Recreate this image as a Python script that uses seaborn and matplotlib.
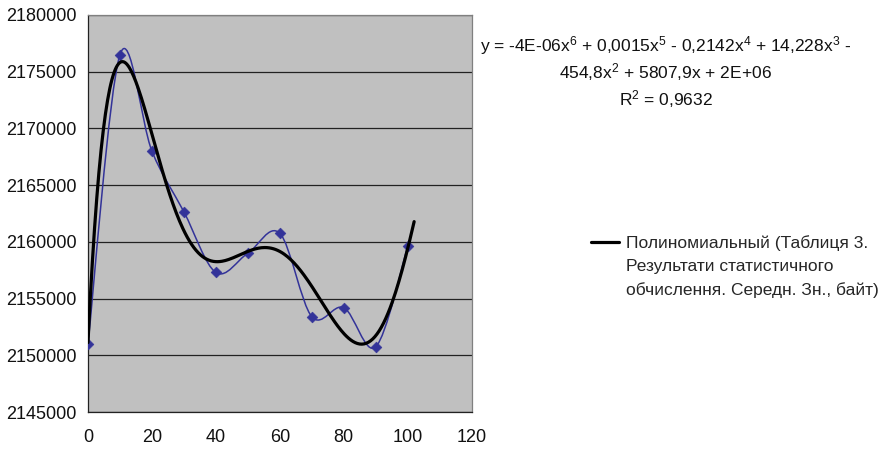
import numpy as np
import pandas as pd
import seaborn as sns
import matplotlib
matplotlib.use("Agg")
import matplotlib.pyplot as plt
from matplotlib.path import Path
from matplotlib.patches import PathPatch
from matplotlib.lines import Line2D

# data
x_vals = [0, 10, 20, 30, 40, 50, 60, 70, 80, 90, 100]
y_vals = [2151000, 2176500, 2168000, 2162650, 2157300, 2159000,
          2160750, 2153400, 2154200, 2150750, 2159600]
x_ticks = [0, 20, 40, 60, 80, 100, 120]
y_ticks = [2145000, 2150000, 2155000, 2160000, 2165000, 2170000, 2175000, 2180000]
legend_lines = ["Полиномиальный (Таблиця 3.", "Результати статистичного",
                "обчислення. Середн. Зн., байт)"]
eq_text = ("y = -4E-06x$^6$ + 0,0015x$^5$ - 0,2142x$^4$ + 14,228x$^3$ -\n"
           "454,8x$^2$ + 5807,9x + 2E+06\nR$^2$ = 0,9632")

df = pd.DataFrame({"x": x_vals, "y": y_vals})

sns.set_style("white")
plt.rcParams["font.family"] = ["Liberation Sans", "DejaVu Sans"]
plt.rcParams["mathtext.fontset"] = "custom"
plt.rcParams["mathtext.rm"] = "Liberation Sans"
plt.rcParams["mathtext.it"] = "Liberation Sans"

fig = plt.figure(figsize=(8.85, 4.5), dpi=100)
ax = fig.add_axes([0.0994, 0.0844, 0.4336, 0.8823])
ax.set_facecolor("#c0c0c0")

# smoothed line (excel style bezier through the points)
pts = df[["x", "y"]].to_numpy(dtype=float)
verts = [tuple(pts[0])]
codes = [Path.MOVETO]
n = len(pts)
for i in range(n - 1):
    p0 = pts[i - 1] if i > 0 else pts[i]
    p1 = pts[i]
    p2 = pts[i + 1]
    p3 = pts[i + 2] if i + 2 < n else pts[i + 1]
    c1 = p1 + (p2 - p0) / 6
    c2 = p2 - (p3 - p1) / 6
    verts += [tuple(c1), tuple(c2), tuple(p2)]
    codes += [Path.CURVE4] * 3
ax.add_patch(PathPatch(Path(verts, codes), fill=False, edgecolor="#333399", lw=1.1, zorder=3))

sns.scatterplot(data=df, x="x", y="y", marker="D", s=30, color="#333399",
                edgecolor="#333399", ax=ax, zorder=4, legend=False)

# 6th order polynomial trend
coef = np.polyfit(df["x"], df["y"], 6)
xt = np.linspace(0, 102, 300)
yt = np.polyval(coef, xt)
sns.lineplot(x=xt, y=yt, color="black", lw=2.3, ax=ax, zorder=5, legend=False)

ax.set_xlim(0, 120)
ax.set_ylim(2145000, 2180000)
ax.set_xticks(x_ticks)
ax.set_yticks(y_ticks)
ax.set_xticklabels([str(t) for t in x_ticks])
ax.set_yticklabels([str(t) for t in y_ticks])
ax.yaxis.grid(True, color="#222222", lw=0.9)
ax.xaxis.grid(False)
ax.set_axisbelow(True)
ax.set_xlabel("")
ax.set_ylabel("")
ax.tick_params(axis="both", direction="out", length=5, width=0.9, colors="#222222",
               labelsize=13, labelcolor="#111111")
ax.tick_params(axis="x", pad=7)
ax.tick_params(axis="y", pad=3)
for side in ["left", "bottom"]:
    ax.spines[side].set_color("#222222")
    ax.spines[side].set_linewidth(0.9)
for side in ["top", "right"]:
    ax.spines[side].set_color("#808080")
    ax.spines[side].set_linewidth(0.9)

handles = [Line2D([], [], color="black", lw=2.3),
           Line2D([], [], color="none"),
           Line2D([], [], color="none")]
fig.legend(handles, legend_lines, loc="upper left", bbox_to_anchor=(0.668, 0.478),
           frameon=False, fontsize=12.5, handlelength=1.6, handletextpad=0.4,
           borderpad=0, borderaxespad=0, labelspacing=0.48)

fig.text(0.752, 0.925, eq_text, ha="center", va="top", fontsize=12.5,
         linespacing=1.27, color="#111111")

fig.savefig("out.png", dpi=100)
